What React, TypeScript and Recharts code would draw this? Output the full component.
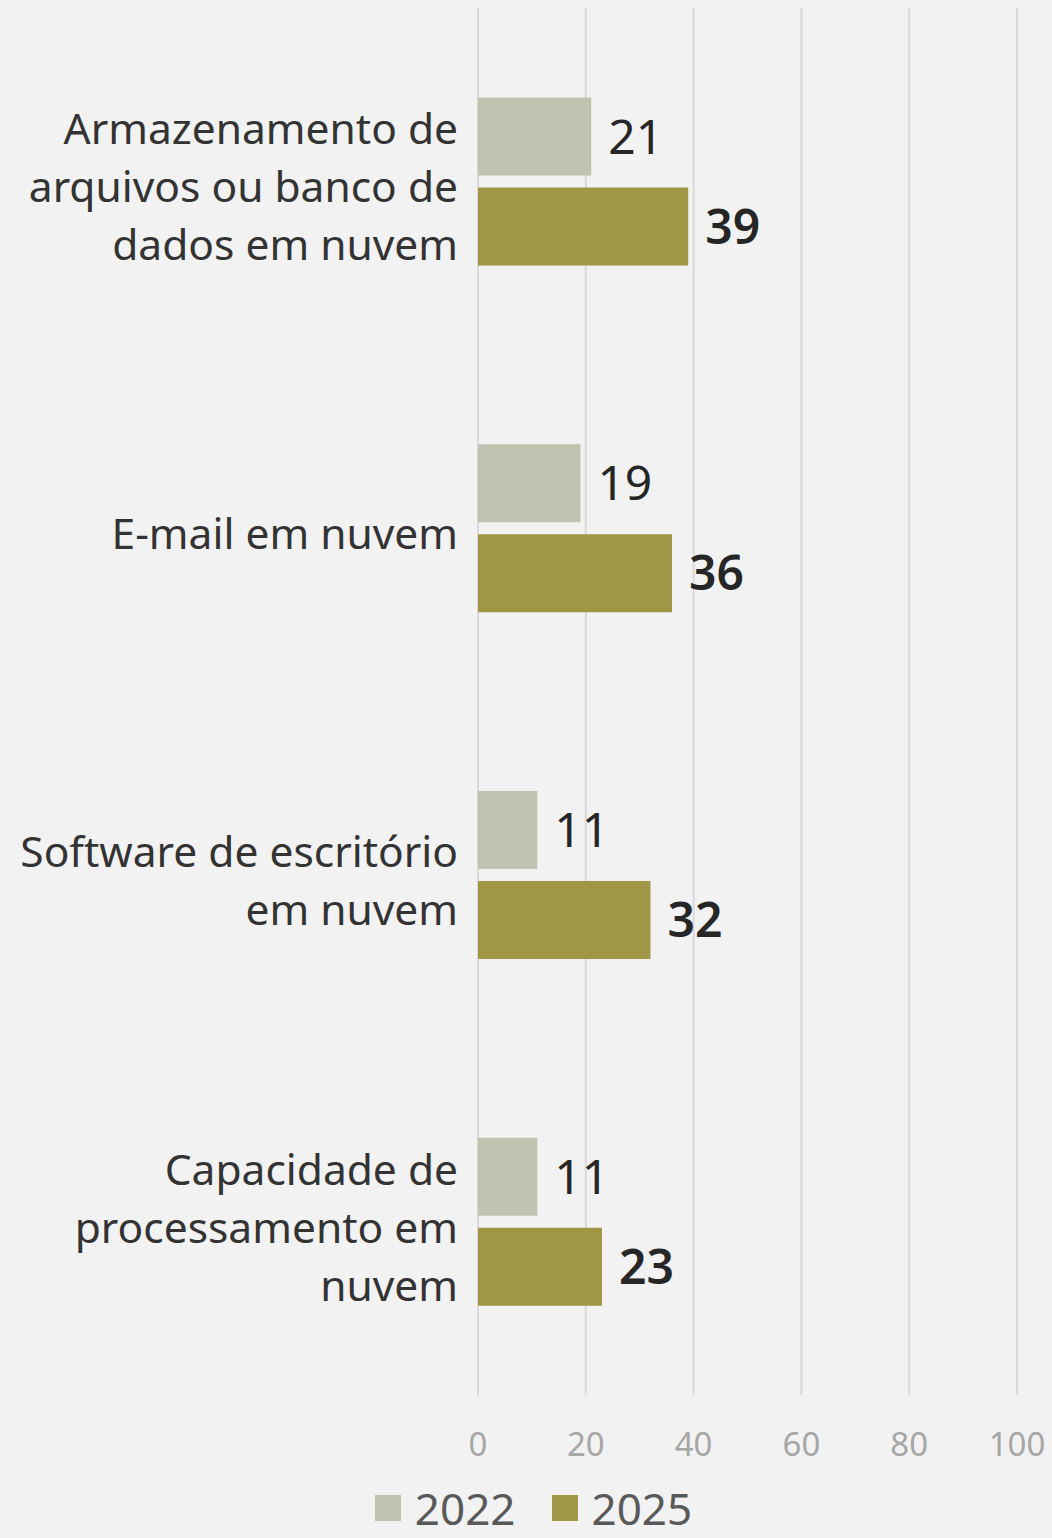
import { BarChart, Bar, XAxis, YAxis, CartesianGrid, Legend, LabelList } from "recharts";

const categories = [
  "Armazenamento de\narquivos ou banco de\ndados em nuvem",
  "E-mail em nuvem",
  "Software de escritório\nem nuvem",
  "Capacidade de\nprocessamento em\nnuvem",
];
const values2022 = [21, 19, 11, 11];
const values2025 = [39, 36, 32, 23];
const xTicks = [0, 20, 40, 60, 80, 100];

const data = categories.map((name, i) => ({
  name,
  y2022: values2022[i],
  y2025: values2025[i],
}));

const FONT = "'Noto Sans', sans-serif";

const CategoryTick = ({ x, y, payload }: any) => {
  const lines = String(payload.value).split("\n");
  const lh = 58;
  const start = y + 4 - ((lines.length - 1) * lh) / 2;
  return (
    <text x={x} y={start} textAnchor="end" fill="#333333" fontSize={42.5} fontFamily={FONT} dominantBaseline="central">
      {lines.map((l, i) => (
        <tspan key={i} x={x} y={start + i * lh}>
          {l}
        </tspan>
      ))}
    </text>
  );
};

const NumTick = ({ x, y, payload }: any) => (
  <text x={x} y={y + 48} textAnchor="middle" fill="#a6a6a6" fontSize={33} fontFamily={FONT} dominantBaseline="central">
    {payload.value}
  </text>
);

const LegendBox = () => (
  <div style={{ display: "flex", justifyContent: "center", alignItems: "center", height: 60, lineHeight: "44px", fontFamily: FONT, fontSize: 44, color: "#595959", paddingLeft: 50, marginTop: 13 }}>
    <span style={{ width: 26, height: 26, background: "#c1c2b0", display: "inline-block", marginRight: 14 }} />
    <span style={{ marginRight: 36 }}>2022</span>
    <span style={{ width: 26, height: 26, background: "#9f9746", display: "inline-block", marginRight: 14 }} />
    <span>2025</span>
  </div>
);

export default function App() {
  return (
    <div style={{ position: "fixed", top: 0, left: 0, width: 1052, height: 1538, background: "#f2f2f2", overflow: "hidden" }}>
      <BarChart
        width={1052}
        height={1538}
        data={data}
        layout="vertical"
        margin={{ top: 8, right: 35, bottom: 0, left: 0 }}
        barCategoryGap="25.8%"
        barGap={12}
      >
        <CartesianGrid horizontal={false} stroke="#d9d9d9" strokeWidth={2} />
        <XAxis
          type="number"
          domain={[0, 100]}
          ticks={xTicks}
          axisLine={false}
          tickLine={false}
          tickSize={0}
          tickMargin={0}
          height={70}
          tick={<NumTick />}
          interval={0}
        />
        <YAxis
          type="category"
          dataKey="name"
          width={478}
          axisLine={false}
          tickLine={false}
          tickSize={0}
          tickMargin={20}
          tick={<CategoryTick />}
          interval={0}
        />
        <Legend verticalAlign="bottom" height={73} content={<LegendBox />} />
        <Bar dataKey="y2022" name="2022" fill="#c1c2b0" isAnimationActive={false}>
          <LabelList dataKey="y2022" position="right" offset={17} fill="#262626" fontSize={48} fontFamily={FONT} />
        </Bar>
        <Bar dataKey="y2025" name="2025" fill="#9f9746" isAnimationActive={false}>
          <LabelList dataKey="y2025" position="right" offset={17} fill="#262626" fontSize={48} fontWeight={600} fontFamily={FONT} />
        </Bar>
      </BarChart>
    </div>
  );
}
